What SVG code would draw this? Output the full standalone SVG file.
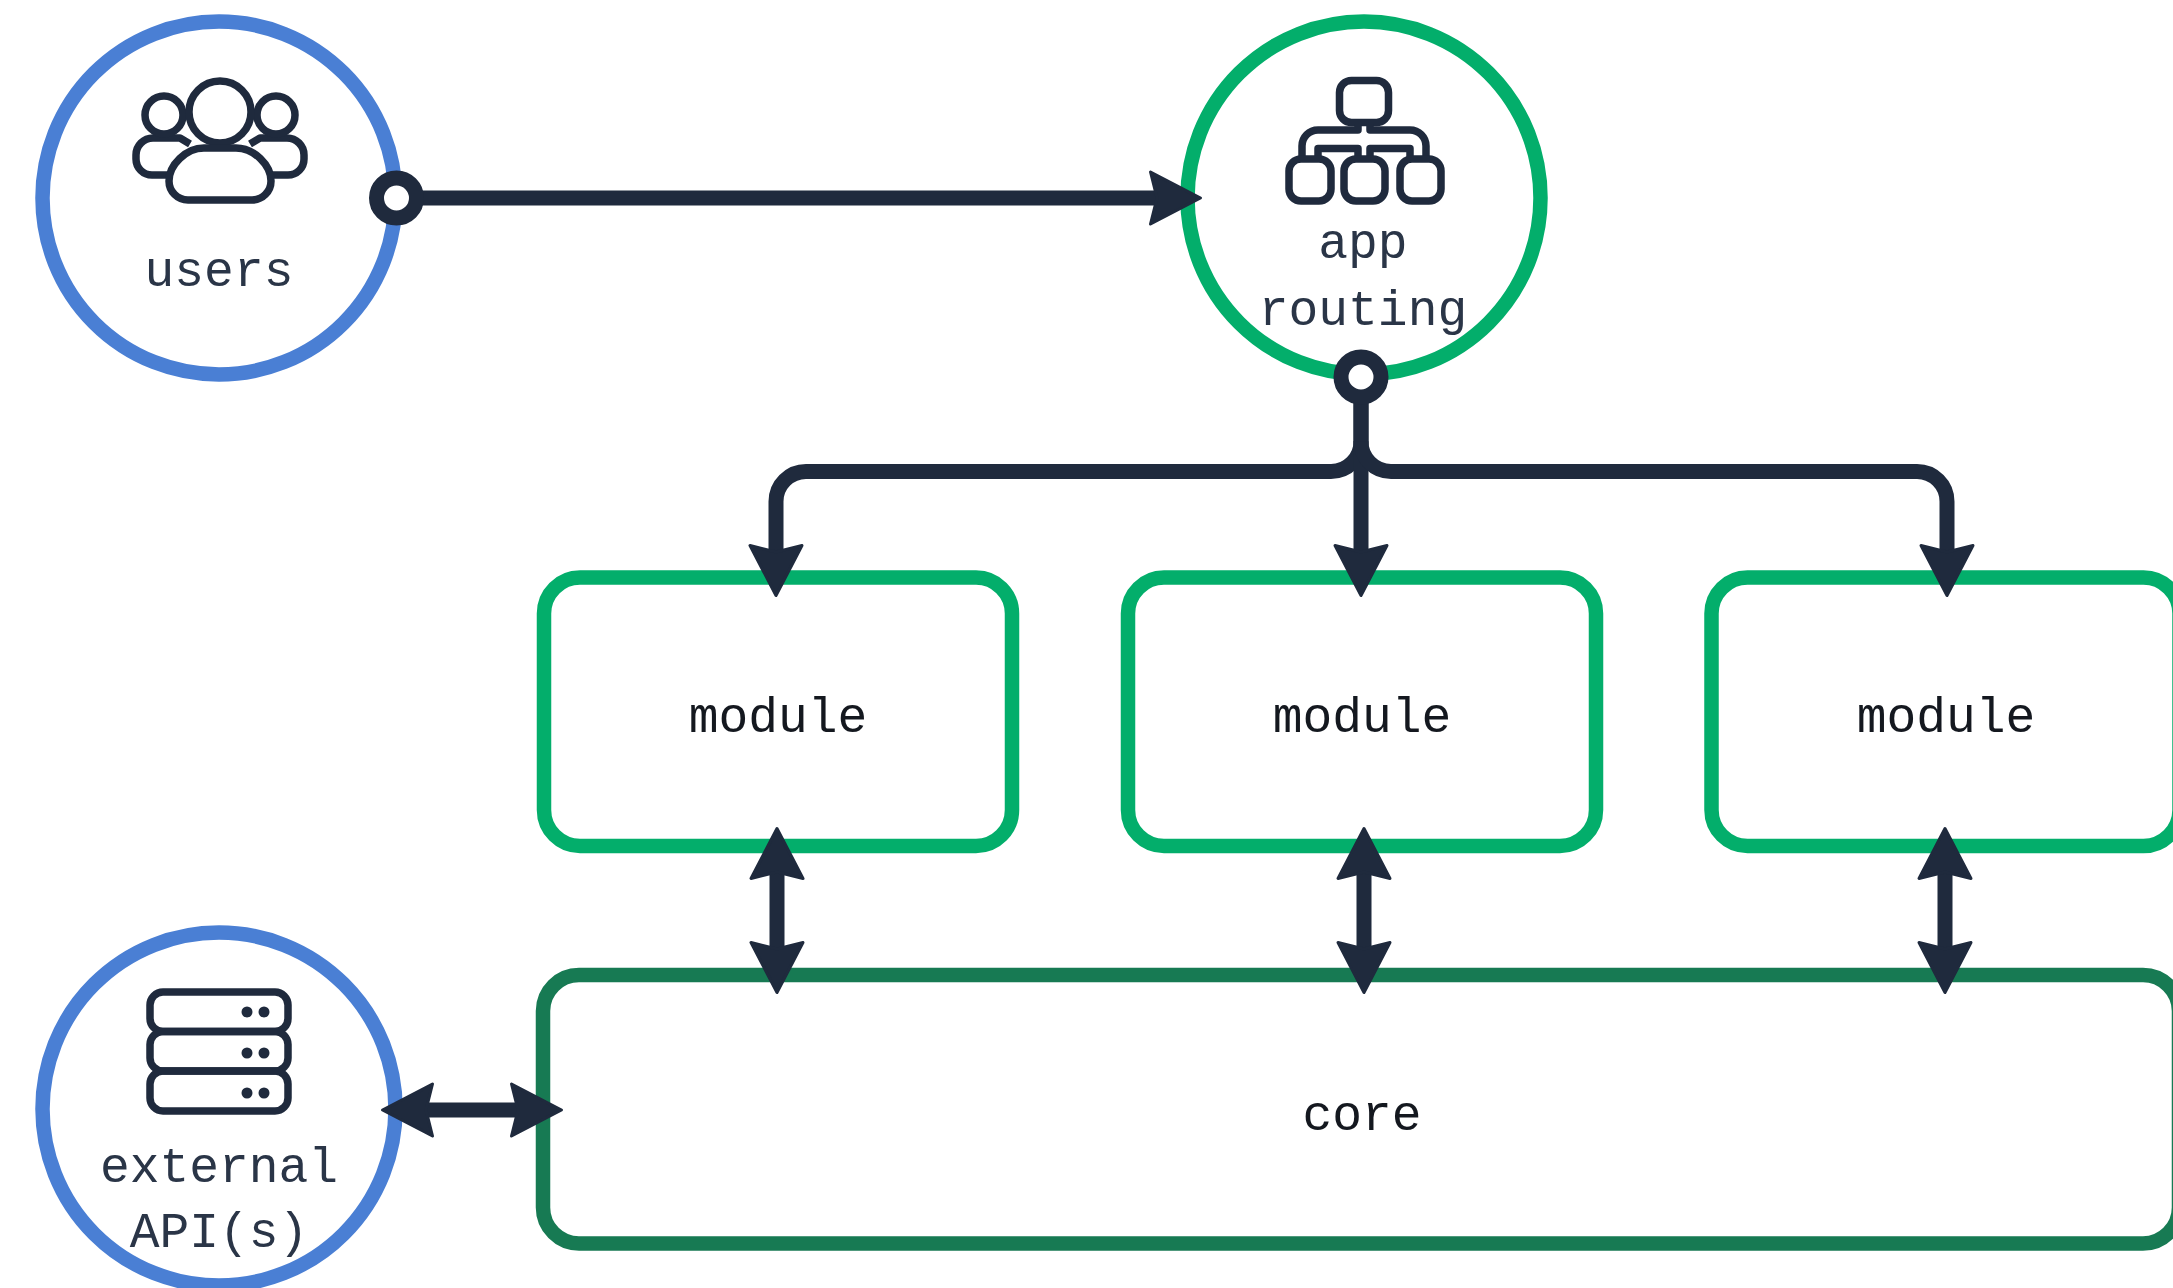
<svg xmlns="http://www.w3.org/2000/svg" width="2173" height="1288" viewBox="0 0 2173 1288">
<style>
.blue{fill:#fff;stroke:#4a7fd4;stroke-width:14.500}
.green{fill:#fff;stroke:#03ae6b;stroke-width:14.500}
.core{fill:#fff;stroke:#177a53;stroke-width:14.500}
.label{font-family:"Liberation Mono",monospace;font-size:49.600px;text-anchor:middle;fill:#2a3547}
.dark{fill:#14181f}
.icon{fill:none;stroke:#1f2a3d;stroke-width:7.500;stroke-linejoin:round}
.dot{fill:#1f2a3d}
.conn{fill:none;stroke:#1f2a3d;stroke-width:15}
.ring{fill:#fff;stroke:#1f2a3d;stroke-width:15}
</style>
<defs>
<marker id="head" markerUnits="userSpaceOnUse" markerWidth="60" markerHeight="60" refX="8" refY="0" viewBox="-2 -30 60 60" orient="auto-start-reverse" overflow="visible">
<path d="M1.500 -26 L51.500 0 L1.500 26 L8 0 Z" fill="#1f2a3d" stroke="#1f2a3d" stroke-width="3" stroke-linejoin="round"/>
</marker>
</defs>
<rect width="2173" height="1288" fill="#fff"/>
<g id="users">
<circle class="blue" cx="219" cy="198" r="176.500"/>
<path class="icon" d="M190 144 L180 138 H153 A17 17 0 0 0 136 155 V159 A16 16 0 0 0 152 175 H168"/>
<path class="icon" d="M250 144 L260 138 H287 A17 17 0 0 1 304 155 V159 A16 16 0 0 1 288 175 H272"/>
<circle class="icon" cx="164" cy="115" r="19"/>
<circle class="icon" cx="276" cy="115" r="19"/>
<circle class="icon" cx="220" cy="112" r="31"/>
<path class="icon" d="M188 200 H252 A19 19 0 0 0 271 181 C271 165 254 148 236 148 H204 C186 148 169 165 169 181 A19 19 0 0 0 188 200Z"/>
<text class="label" x="219" y="286">users</text>
</g>
<g id="app-routing">
<circle class="green" cx="1364" cy="198" r="176.500"/>
<rect class="icon" x="1339.500" y="80.500" width="49" height="42" rx="12"/>
<path class="icon" d="M1358 124 V130 H1318 A16 16 0 0 0 1302 146 V158"/>
<path class="icon" d="M1370 124 V130 H1410 A16 16 0 0 1 1426 146 V158"/>
<path class="icon" d="M1318 158 V148.500 H1358 V158"/>
<path class="icon" d="M1370 158 V148.500 H1410 V158"/>
<rect class="icon" x="1289" y="159" width="42" height="42" rx="12"/>
<rect class="icon" x="1344" y="159" width="41" height="42" rx="12"/>
<rect class="icon" x="1400" y="159" width="41" height="42" rx="12"/>
<text class="label" x="1363" y="258">app</text>
<text class="label" x="1363" y="325">routing</text>
</g>
<g id="external-apis">
<circle class="blue" cx="219" cy="1109" r="176.500"/>
<rect class="icon" x="150" y="992" width="138" height="39.500" rx="13"/>
<rect class="icon" x="150" y="1031.500" width="138" height="39.500" rx="13"/>
<rect class="icon" x="150" y="1071" width="138" height="40" rx="13"/>
<circle class="dot" cx="247" cy="1012" r="5.500"/><circle class="dot" cx="264" cy="1012" r="5.500"/>
<circle class="dot" cx="247" cy="1053" r="5.500"/><circle class="dot" cx="264" cy="1053" r="5.500"/>
<circle class="dot" cx="247" cy="1093" r="5.500"/><circle class="dot" cx="264" cy="1093" r="5.500"/>
<text class="label" x="219" y="1182">external</text>
<text class="label" x="219" y="1247">API(s)</text>
</g>
<g id="module-1">
<rect class="green" x="544" y="577.500" width="468" height="268.500" rx="36"/>
<text class="label dark" x="778" y="732">module</text>
</g>
<g id="module-2">
<rect class="green" x="1128" y="577.500" width="468" height="268.500" rx="36"/>
<text class="label dark" x="1362" y="732">module</text>
</g>
<g id="module-3">
<rect class="green" x="1711.500" y="577.500" width="468" height="268.500" rx="36"/>
<text class="label dark" x="1946" y="732">module</text>
</g>
<g id="core">
<rect class="core" x="543" y="975" width="1636" height="268.500" rx="36"/>
<text class="label dark" x="1362" y="1130">core</text>
</g>
<g id="connectors">
<path class="conn" d="M396 198 H1157" marker-end="url(#head)"/>
<path class="conn" d="M1361 377 V441 A30 30 0 0 1 1331 471.500 H806 A30 30 0 0 0 776 501.500 V552" marker-end="url(#head)"/>
<path class="conn" d="M1361 377 V552" marker-end="url(#head)"/>
<path class="conn" d="M1361 441 A30 30 0 0 0 1391 471.500 H1917 A30 30 0 0 1 1947 501.500 V552" marker-end="url(#head)"/>
<path class="conn" d="M777 872 V949" marker-start="url(#head)" marker-end="url(#head)"/>
<path class="conn" d="M1364 872 V949" marker-start="url(#head)" marker-end="url(#head)"/>
<path class="conn" d="M1945 872 V949" marker-start="url(#head)" marker-end="url(#head)"/>
<path class="conn" d="M426 1110 H518" marker-start="url(#head)" marker-end="url(#head)"/>
<circle class="ring" cx="396.500" cy="198" r="20"/>
<circle class="ring" cx="1361" cy="377" r="20"/>
</g>
</svg>
